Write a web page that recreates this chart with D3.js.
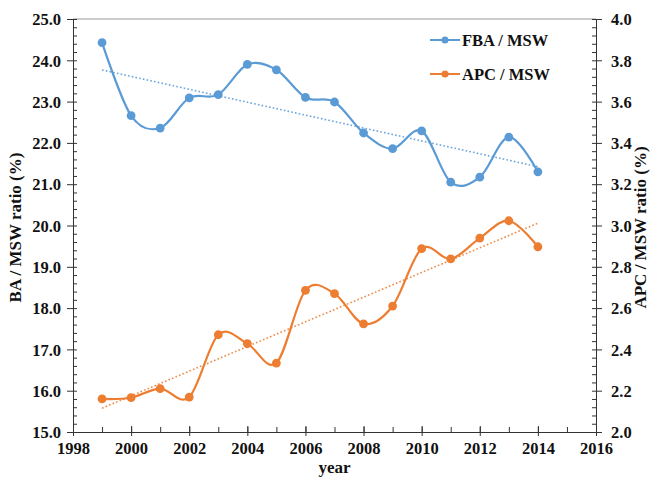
<!DOCTYPE html>
<html>
<head>
<meta charset="utf-8">
<script src="https://cdn.jsdelivr.net/npm/d3@7/dist/d3.min.js"></script>
<style>
  html, body { margin: 0; padding: 0; background: #fff; }
  svg { display: block; }
  .axis text { font-family: "Liberation Serif", "Times New Roman", serif; font-weight: bold; font-size: 16.5px; fill: #111; }
  .axis path, .axis line { stroke: #333; }
  .title { font-family: "Liberation Serif", "Times New Roman", serif; font-weight: bold; font-size: 17px; fill: #111; }
  .legend-text { font-family: "Liberation Serif", "Times New Roman", serif; font-weight: bold; font-size: 16.5px; fill: #111; }
</style>
</head>
<body>
<svg id="chart" width="654" height="480"></svg>
<script>
// Annual ratios
const years = [1999, 2000, 2001, 2002, 2003, 2004, 2005, 2006, 2007, 2008, 2009, 2010, 2011, 2012, 2013, 2014];
const fbaMsw = [24.43, 22.66, 22.36, 23.09, 23.17, 23.90, 23.77, 23.10, 22.99, 22.24, 21.86, 22.29, 21.05, 21.17, 22.14, 21.30];
const apcMsw = [2.160, 2.166, 2.210, 2.169, 2.471, 2.428, 2.334, 2.686, 2.670, 2.524, 2.610, 2.888, 2.838, 2.939, 3.023, 2.897];

// Axis ticks
const xTicks = [1998, 2000, 2002, 2004, 2006, 2008, 2010, 2012, 2014, 2016];
const leftTicks = [15, 16, 17, 18, 19, 20, 21, 22, 23, 24, 25];
const rightTicks = [2.0, 2.2, 2.4, 2.6, 2.8, 3.0, 3.2, 3.4, 3.6, 3.8, 4.0];

const seriesNames = ["FBA / MSW", "APC / MSW"];
const colors = ["#5b9bd5", "#ed7d31"];

const svg = d3.select("#chart");
const L = 73, R = 596, T = 19, B = 432;

const x = d3.scaleLinear().domain([1998, 2016]).range([L, R]);
const yL = d3.scaleLinear().domain([15, 25]).range([B, T]);
const yR = d3.scaleLinear().domain([2, 4]).range([B, T]);

// frame top
svg.append("line").attr("x1", L).attr("x2", R).attr("y1", T).attr("y2", T)
  .attr("stroke", "#999").attr("stroke-width", 1.2);

// minor ticks (inside)
const minorLeft = d3.range(15, 25.001, 0.2);
const minorRight = d3.range(2, 4.0001, 0.04);
const minorX = d3.range(1998, 2016.5, 1);

svg.append("g").attr("class", "axis").attr("transform", `translate(${L},0)`)
  .call(d3.axisRight(yL).tickValues(minorLeft).tickSize(4).tickFormat(""))
  .call(g => g.select(".domain").remove());
svg.append("g").attr("class", "axis").attr("transform", `translate(${R},0)`)
  .call(d3.axisLeft(yR).tickValues(minorRight).tickSize(4).tickFormat(""))
  .call(g => g.select(".domain").remove());
svg.append("g").attr("class", "axis").attr("transform", `translate(0,${B})`)
  .call(d3.axisTop(x).tickValues(minorX).tickSize(5).tickFormat(""))
  .call(g => g.select(".domain").remove());

// major axes
svg.append("g").attr("class", "axis").attr("transform", `translate(${L},0)`)
  .call(d3.axisLeft(yL).tickValues(leftTicks).tickSize(6).tickPadding(6).tickFormat(d3.format(".1f")))
  .call(g => g.selectAll("text").attr("dy", "0.35em"));
svg.append("g").attr("class", "axis").attr("transform", `translate(${R},0)`)
  .call(d3.axisRight(yR).tickValues(rightTicks).tickSize(6).tickPadding(9).tickFormat(d3.format(".1f")))
  .call(g => g.selectAll("text").attr("dy", "0.35em"));
svg.append("g").attr("class", "axis").attr("transform", `translate(0,${B})`)
  .call(d3.axisBottom(x).tickValues(xTicks).tickSize(4).tickPadding(6).tickFormat(d3.format("d")))
  .call(g => g.selectAll(".tick line").attr("y1", -6));

// axis titles
svg.append("text").attr("class", "title")
  .attr("transform", `translate(21,${(T + B) / 2 + 2}) rotate(-90)`)
  .attr("text-anchor", "middle").text("BA / MSW ratio (%)");
svg.append("text").attr("class", "title")
  .attr("transform", `translate(646,${(T + B) / 2 + 2}) rotate(-90)`)
  .attr("text-anchor", "middle").text("APC / MSW ratio (%)");
svg.append("text").attr("class", "title")
  .attr("x", (L + R) / 2).attr("y", 473).attr("text-anchor", "middle").text("year");

// least-squares trend
function trend(xs, ys) {
  const mx = d3.mean(xs), my = d3.mean(ys);
  const b = d3.sum(xs, (v, i) => (v - mx) * (ys[i] - my)) / d3.sum(xs, v => (v - mx) ** 2);
  const a = my - b * mx;
  return [xs[0], xs[xs.length - 1]].map(v => [v, a + b * v]);
}

const series = [
  { values: fbaMsw, y: yL, color: colors[0] },
  { values: apcMsw, y: yR, color: colors[1] }
];

series.forEach(s => {
  const pts = years.map((yr, i) => [yr, s.values[i]]);
  const tl = trend(years, s.values);
  svg.append("path")
    .attr("d", d3.line().x(d => x(d[0])).y(d => s.y(d[1]))(tl))
    .attr("fill", "none").attr("stroke", s.color).attr("stroke-width", 1.6)
    .attr("stroke-dasharray", "1.6,2.2").attr("opacity", 0.9);
  svg.append("path")
    .attr("d", d3.line().x(d => x(d[0])).y(d => s.y(d[1])).curve(d3.curveCardinal.tension(0))(pts))
    .attr("fill", "none").attr("stroke", s.color).attr("stroke-width", 2.2);
  svg.append("g").selectAll("circle").data(pts).join("circle")
    .attr("cx", d => x(d[0])).attr("cy", d => s.y(d[1])).attr("r", 4.4)
    .attr("fill", s.color);
});

// legend
const legend = svg.append("g");
seriesNames.forEach((name, i) => {
  const ly = 40 + i * 34;
  legend.append("line").attr("x1", 430).attr("x2", 460).attr("y1", ly).attr("y2", ly)
    .attr("stroke", colors[i]).attr("stroke-width", 2);
  legend.append("circle").attr("cx", 445).attr("cy", ly).attr("r", 3.5).attr("fill", colors[i]);
  legend.append("text").attr("class", "legend-text").attr("x", 462).attr("y", ly + 5.5).text(name);
});
</script>
</body>
</html>
